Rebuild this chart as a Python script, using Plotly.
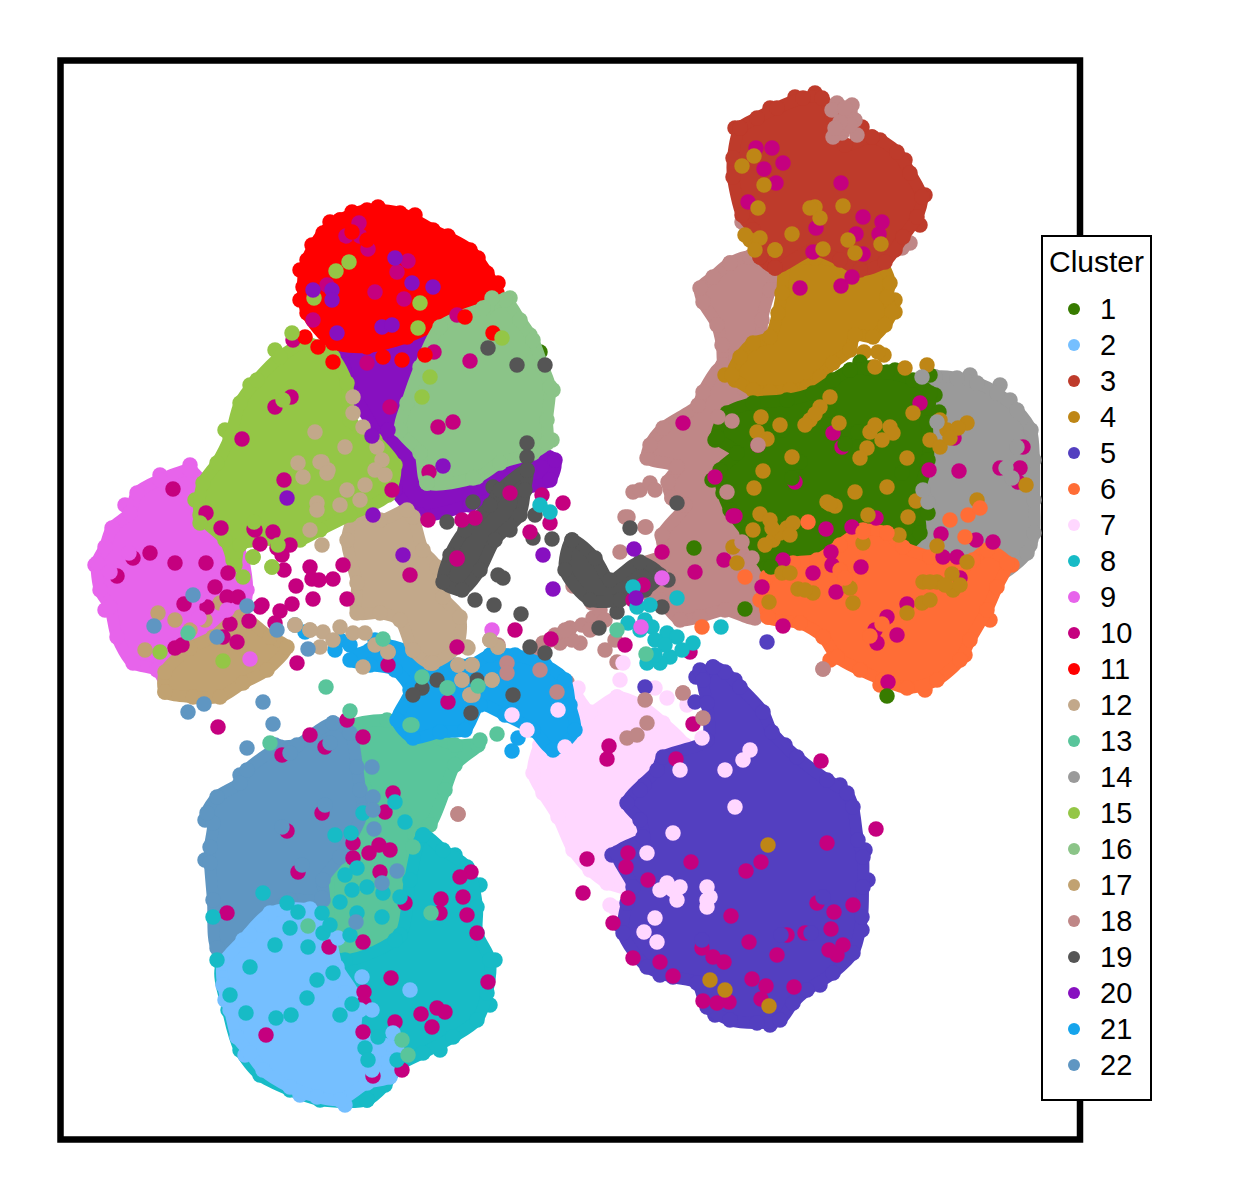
import plotly.graph_objects as go

# Values are read off the picture; the chart has no axis ticks, so the
# scale is arbitrary (y grows downwards). Each cluster: hull = outline of the
# solid mass, pts = separate points, top = points drawn over other clusters.

c1_hull = [[(850,370),(868,368),(887,372),(913,380),(930,393),(927,423),(928,460),(917,500),(920,533),(903,547),(873,547),(853,563),(837,587),(820,580),(787,560),(767,567),(747,533),(730,510),(723,493),(720,470),(737,453),(717,437),(727,413),(753,403),(787,400),(813,393),(833,380)]]
c1_pts = [(540,352),(930,375),(860,362),(895,370),(935,395),(715,440),(712,480)]
c1_top = [(829,410),(845,444),(877,433),(939,412),(771,567),(902,473),(928,513),(694,548),(745,609),(887,696),(858,432),(800,462),(782,430),(792,478)]

c2_hull = [[(223,963),(223,985),(230,1010),(237,1037),(250,1053),(263,1070),(290,1087),(317,1097),(340,1100),(367,1083),(390,1077),(397,1050),(357,1033),(357,1000),(337,967),(330,940),(307,910),(270,913),(243,940)]]
c2_pts = [(225,1000),(245,1055),(300,1095),(345,1105)]
c2_top = [(310,909),(338,938),(332,965),(345,993),(362,977),(360,1010),(410,990),(393,1033),(250,935),(262,925),(372,1010),(380,1055),(388,1062),(372,1070)]

c3_hull = [[(740,128),(757,118),(777,108),(803,98),(822,98),(832,115),(845,145),(872,137),(897,152),(910,173),(922,197),(917,217),(903,237),(885,262),(860,270),(840,260),(813,250),(775,268),(760,257),(753,230),(742,215),(733,177),(733,158)]]
c3_pts = [(735,128),(770,108),(795,97),(815,93),(880,140),(905,160),(925,195),(920,225),(895,250)]
c3_top = [(862,127),(872,137),(775,268),(760,257)]

c4_hull = [[(787,262),(815,258),(840,262),(865,265),(880,262),(890,283),(887,297),(892,312),(885,325),(873,337),(855,335),(850,350),(833,363),(820,377),(807,387),(790,390),(770,392),(753,390),(732,375),(740,357),(753,343),(770,337),(778,313),(782,293)]]
c4_pts = [(884,355),(878,352),(873,367),(850,345),(864,352),(735,380),(725,375),(895,300),(895,312)]
c4_top = [(750,240),(760,238),(775,250),(755,250),(745,235),(761,417),(757,432),(767,439),(792,457),(763,471),(754,488),(839,423),(830,397),(820,407),(810,420),(890,427),(893,433),(907,458),(913,413),(930,440),(947,430),(940,447),(855,492),(827,502),(835,506),(760,514),(770,520),(753,530),(787,528),(793,523),(773,540),(733,547),(737,563),(782,573),(790,573),(908,517),(916,501),(863,543),(899,535),(868,515),(937,546),(967,562),(952,574),(923,582),(937,582),(953,590),(798,589),(813,593),(850,588),(853,603),(922,603),(907,613),(769,602),(1026,485),(977,500),(905,368),(875,367),(927,365),(870,432),(887,487),(867,448),(967,423),
          (815,414),(805,425),(780,533),(765,545),(930,582),(945,585),(960,585),(958,428),(950,438),(875,425),(882,440),(790,535),(772,528),(805,590),(930,600),(940,420),(860,458),(830,504),(780,425),
          (725,990),(769,1006),(768,845),(710,980),(754,156),(742,166),(764,185),(758,208),(843,206),(815,207),(792,234),(881,244),(823,249),(848,240),(855,253),(775,250),(820,218),(810,208)]

c5_hull = [[(713,667),(725,672),(740,687),(763,712),(772,732),(797,757),(827,780),(847,793),(853,807),(858,840),(863,857),(863,887),(862,917),(853,953),(833,973),(807,990),(793,1003),(780,1020),(757,1023),(730,1020),(707,1007),(697,983),(673,977),(647,967),(623,933),(627,903),(633,887),(617,853),(643,837),(640,820),(627,803),(657,770),(663,757),(707,740),(707,703),(703,680)]]
c5_pts = [(696,677),(695,702),(767,642),(645,687),(700,670),(735,680),(785,745),(840,785),(865,850),(868,880),(862,930),(820,985),(770,1025),(715,1015),(660,975),(620,925),(612,855)]
c5_top = [(644,785),(640,790),(781,935),(811,933),(823,897),(702,940)]

c6_hull = [[(768,617),(767,577),(793,563),(817,560),(840,545),(863,530),(887,533),(903,547),(930,557),(963,567),(973,560),(987,550),(1007,563),(997,587),(987,610),(970,640),(960,660),(937,680),(907,688),(883,680),(860,670),(837,657),(823,637),(800,623)]]
c6_pts = [(1012,565),(990,620),(965,655),(925,690),(880,685),(830,660),(760,600)]
c6_top = [(950,520),(968,515),(980,508),(965,537),(863,532),(887,533),(808,522),(745,577),(702,627),(840,570),(845,578),(882,624),(870,636)]

c7_hull = [[(540,745),(578,700),(590,712),(617,697),(640,705),(663,723),(685,745),(700,800),(680,880),(640,905),(627,890),(607,883),(590,870),(573,850),(558,817),(543,793),(533,773)]]
c7_pts = [(578,688),(623,663),(620,680),(617,697),(655,688),(667,698),(687,705),(615,908),(610,905),(527,730),(512,715),(558,710),(565,747)]
c7_top = [(735,807),(667,887),(707,887),(743,760),(725,770),(750,750),(655,918),(644,932),(657,942),(710,897),(673,833),(647,853),(680,770),(702,738),(558,710),(565,747),(527,730),(512,715),(673,890),(680,887),(667,883),(677,900),(707,900),(707,907),(660,890)]

c8_hull = [[(423,835),(443,850),(467,867),(477,907),(477,933),(490,960),(487,993),(477,1020),(453,1037),(423,1053),(400,1065),(385,1085),(367,1100),(320,1100),(290,1090),(260,1075),(240,1050),(228,1010),(222,965),(300,940),(345,960),(400,935),(410,880)]]
c8_pts = [(480,885),(495,960),(490,1005),(440,1050),(455,855)]
c8_top = [(335,835),(351,833),(363,813),(395,802),(405,822),(357,868),(345,875),(352,890),(367,887),(383,893),(340,902),(287,903),(298,912),(322,913),(357,913),(382,917),(290,928),(275,945),(308,947),(323,933),(307,998),(246,1013),(276,1018),(291,1015),(340,1015),(352,1004),(367,1100),(365,1048),(368,1060),(397,1060),(378,1037),(317,980),(333,973),(250,967),(230,995),(217,960),(213,917),(263,893),(330,925),(395,940),(350,935),(400,897),
          (633,587),(637,607),(628,623),(677,598),(693,643),(670,657),(647,663),(660,663),(667,633),(677,637),(652,627),(721,627),(540,505),(550,512),(645,620),(640,630),(655,640),(665,645),(682,650),(650,605),(655,655)]

c9_hull = [[(190,470),(160,480),(137,493),(130,513),(112,528),(105,547),(97,563),(100,590),(110,607),(117,637),(133,663),(157,670),(167,683),(195,640),(240,620),(247,590),(243,560),(227,527),(207,500),(200,480)]]
c9_pts = [(95,565),(105,610),(125,505),(160,475),(190,465)]
c9_top = [(250,659),(199,618),(199,596),(227,610),(492,630),(641,627),(662,578),(110,572),(129,553)]

c10_pts = [(772,148),(756,148),(783,163),(764,169),(776,183),(748,202),(816,228),(856,234),(879,234),(863,254),(841,286),(813,252),(863,217),(841,183),(800,288),(852,277),(882,222),
           (920,403),(954,438),(1023,447),(929,470),(959,471),(1000,468),(1020,468),(1018,482),(833,433),(842,447),(795,482),(735,516),(715,477),(683,423),(826,529),(852,527),(876,518),(941,534),(976,540),(993,542),(831,552),(832,565),(813,573),(861,567),(724,560),(695,572),(783,560),(762,587),(836,592),(907,604),(877,643),(875,630),(887,617),(783,626),(957,557),(943,557),(662,552),(690,652),(625,645),(643,585),(633,600),(758,445),(888,682),(897,635),(960,578),
           (359,223),(346,236),(360,236),(368,249),(408,261),(397,272),(327,285),(375,292),(404,299),(457,315),(293,340),(434,352),(470,361),(367,363),(390,407),(291,397),(275,407),(242,439),(438,427),(453,422),(429,472),(284,480),(542,495),(563,503),(550,523),(530,532),(462,520),(475,518),(428,520),(273,532),(221,528),(255,530),(392,490),(510,493),(313,320),
           (173,489),(206,513),(254,529),(260,544),(277,548),(282,555),(290,545),(284,570),(310,567),(312,579),(319,580),(296,586),(333,579),(347,599),(313,599),(292,604),(280,611),(275,623),(260,607),(249,621),(230,624),(237,642),(223,637),(175,648),(182,645),(184,604),(207,607),(215,587),(228,573),(206,563),(150,553),(133,558),(117,576),(297,663),(218,727),(310,735),(363,737),(347,720),(388,665),(448,702),(343,565),(457,647),(457,558),(410,575),(175,563),(238,597),(227,597),(262,605),
           (515,630),(457,559),(551,639),(609,746),(607,759),(693,724),(676,759),(733,516),
           (325,747),(282,755),(287,831),(298,872),(322,813),(393,793),(385,812),(353,843),(369,853),(379,845),(390,850),(353,858),(380,872),(471,872),(460,877),(463,897),(441,899),(440,913),(467,915),(477,933),(405,903),(227,913),(363,942),(329,947),(391,978),(364,992),(364,1003),(445,1012),(437,1008),(432,1027),(421,1014),(395,1022),(266,1035),(363,1032),(373,1076),(402,1070),(488,982),
           (821,761),(876,829),(587,859),(583,893),(628,853),(626,867),(648,880),(691,862),(746,871),(761,862),(817,903),(834,912),(831,929),(843,945),(837,955),(829,950),(731,916),(749,942),(702,948),(713,957),(724,962),(766,986),(794,987),(752,979),(761,999),(729,1002),(717,1003),(703,1001),(673,976),(633,958),(660,962),(613,923),(628,898),(787,935),(777,955),(827,843),(853,905),(805,933)]

c11_hull = [[(340,220),(367,210),(400,213),(433,230),(470,250),(487,273),(497,293),(490,307),(440,323),(407,337),(367,347),(333,343),(307,313),(303,287),(307,260),(323,233)]]
c11_pts = [(300,270),(312,245),(330,222),(352,212),(378,207),(415,215),(448,236),(478,258),(498,283),(300,300)]
c11_top = [(305,337),(318,347),(333,362),(383,357),(402,360),(465,317),(493,333),(425,355),(352,232),(367,240),(340,250)]

c12_hull = [[(360,507),(347,540),(357,583),(357,613),(380,613),(400,620),(413,650),(430,663),(457,647),(460,617),(443,597),(437,567),(423,550),(413,517),(407,510),(380,520)]]
c12_pts = [(310,630),(323,632),(340,627),(353,633),(365,633),(295,625),(320,647),(363,667),(388,652),(413,650),(432,663),(458,665),(462,680),(473,695),(467,647),(472,665),(492,680),(470,695),(468,648),(498,647),(490,640),(333,640),(375,645)]
c12_top = [(315,432),(353,397),(353,413),(345,447),(298,463),(322,462),(328,470),(303,477),(317,503),(317,510),(360,500),(347,490),(363,427),(377,447),(382,460),(320,462),(327,473),(310,530),(322,545),(458,665),(462,680),(492,680),(470,695),(498,647),(490,640),(433,663),(472,665),(295,625),(310,630),(388,652),(375,470),(340,505),(365,485),(385,475)]

c13_hull = [[(345,730),(387,720),(423,733),(455,745),(478,745),(455,765),(445,790),(430,825),(415,835),(412,870),(400,960),(340,960),(330,870),(365,790)]]
c13_pts = []
c13_top = [(326,687),(350,711),(270,743),(188,633),(383,639),(422,677),(448,688),(412,725),(497,734),(478,686),(447,688),(480,740),(617,630),(646,654),(410,725),(308,926),(431,913),(413,847),(402,1040),(408,1055)]

c14_hull = [[(935,377),(957,378),(977,383),(997,393),(1017,410),(1031,430),(1034,460),(1034,500),(1034,533),(1027,553),(1000,575),(960,575),(920,545),(905,470),(915,400)]]
c14_pts = [(1010,400),(1000,385),(970,375),(1030,545)]
c14_top = [(937,422),(922,377),(928,502),(923,490),(1017,447),(1006,468),(1012,478)]

c15_hull = [[(307,343),(333,357),(347,383),(350,420),(375,440),(395,465),(388,495),(350,515),(320,530),(300,540),(262,540),(240,545),(235,565),(225,540),(200,515),(203,483),(217,463),(230,437),(240,403),(257,380),(280,357)]]
c15_pts = [(272,567),(253,557),(243,577),(233,560),(195,500),(225,430),(250,385),(275,350)]
c15_top = [(223,661),(160,652),(272,567),(253,557),(336,271),(349,262),(314,298),(420,303),(502,338),(418,328),(430,377),(422,397),(292,333),(200,523),(254,522),(283,400),(278,545)]

c16_hull = [[(505,300),(520,320),(533,340),(543,367),(550,387),(547,420),(547,443),(533,453),(500,463),(477,477),(427,483),(420,453),(400,430),(407,403),(420,367),(440,327),(487,307)]]
c16_pts = [(510,298),(530,335),(553,390),(552,440)]
c16_top = [(492,298),(483,308),(427,483),(473,478)]

c17_hull = [[(165,692),(165,672),(190,648),(213,637),(240,617),(270,637),(287,647),(267,670),(243,683),(220,697),(193,697)]]
c17_pts = [(158,613),(220,603),(233,622),(205,620),(190,630),(175,620),(145,650)]
c17_top = []

c18_hull = [[(730,263),(750,257),(775,275),(770,290),(762,320),(762,345),(755,365),(725,367),(722,345),(717,325),(703,302),(700,288),(713,277)],
            [(723,365),(745,390),(760,430),(760,560),(755,618),(725,610),(700,617),(680,620),(660,600),(640,590),(640,565),(663,555),(662,535),(685,505),(672,498),(668,482),(677,467),(647,458),(650,445),(663,428),(698,405),(703,392)]]
c18_pts = [(910,243),(902,248),(742,222),(820,192),(793,223),(767,253),(803,123),
           (633,492),(640,490),(650,483),(625,517),(645,527),(655,490),(672,498),(680,478),(690,510),(700,520),(628,517),(646,527),(620,552),(677,532),(663,538),
           (570,628),(582,625),(593,618),(580,643),(560,643),(543,643),(527,660),(507,663),(507,673),(540,670),(557,692),(605,650),(617,662),(645,700),(647,723),(627,738),(637,735),(683,693),(703,718),(675,750),(567,682),(498,645),(490,640),(573,586),(592,603),(600,610),(823,669),(458,814),(533,650),(555,635),(572,640),(590,630),(565,630),(550,640),(605,620),(615,640)]
c18_top = [(837,103),(850,112),(855,120),(842,133),(857,135),(833,137),(845,128),(832,110),(845,118),(850,125),(840,122),(835,128),(852,105),(845,108),(718,417),(732,421),(758,445),(742,542),(752,558),(727,492),(647,723),(627,738),(637,735),(645,700),(683,693),(703,718),(458,814),(823,669),(507,663),(507,673),(540,670),(557,692)]

c19_hull = [[(527,470),(525,490),(520,515),(495,540),(480,570),(462,590),(443,582),(450,555),(465,530),(490,505),(500,490)],
            [(572,540),(595,558),(610,580),(640,562),(660,575),(645,590),(620,600),(590,600),(565,570)]]
c19_pts = [(527,443),(527,457),(520,477),(493,487),(473,502),(447,522),(510,530),(533,538),(552,539),(535,515),(475,600),(494,605),(521,614),(498,575),(503,578),(630,528),(677,503),(662,607),(617,612),(599,628),(668,580),(530,647),(545,653),(437,680),(422,688),(413,695),(471,713),(513,695),(477,680),(488,348),(517,365),(545,365)]
c19_top = []

c20_hull = [[(345,350),(400,340),(440,330),(470,400),(500,440),(555,460),(550,480),(520,490),(470,505),(420,515),(395,490),(380,440),(350,385)]]
c20_pts = [(318,325),(328,335),(345,350),(360,355)]
c20_top = [(395,258),(412,283),(433,287),(332,290),(332,300),(313,290),(382,327),(392,325),(337,333),(372,436),(388,430),(443,466),(287,498),(373,515),(403,555),(543,555),(553,589),(634,549),(636,598)]

c21_hull = [[(385,645),(420,655),(470,665),(490,655),(515,655),(545,665),(565,680),(570,705),(575,730),(553,750),(533,730),(505,715),(480,705),(465,730),(440,732),(413,738),(397,720),(410,690),(395,670),(370,665),(350,660)]]
c21_pts = [(295,625),(305,632),(335,650),(340,640),(350,645),(360,655),(370,650),(375,640),(385,655),(390,665),(512,751),(518,738),(380,645)]
c21_top = []

c22_hull = [[(333,723),(350,733),(357,767),(360,790),(363,810),(340,857),(323,880),(323,900),(290,900),(260,920),(235,950),(217,948),(213,900),(210,863),(210,847),(213,823),(207,813),(217,797),(240,783),(247,770),(280,747),(297,745)]]
c22_pts = [(205,820),(205,860),(215,920),(240,775),(275,745)]
c22_top = [(263,702),(204,704),(188,712),(273,724),(247,748),(154,626),(217,637),(247,606),(308,649),(277,630),(193,595),(373,797),(373,810),(374,829),(397,871),(382,883),(322,898),(356,922),(372,767),(330,743),(325,805),(290,753),(282,827),(302,865)]

cluster_names = [str(i) for i in range(1, 23)]
cluster_colors = ["#377b00", "#75bfff", "#be3b2b", "#be8616", "#533fc0", "#ff6d36", "#ffd7ff", "#17bbc6", "#e764eb", "#c5007f", "#ff0000",
                  "#c2a88a", "#59c59b", "#9a9a9a", "#94c646", "#8bc488", "#c1a271", "#bf8787", "#555555", "#8710c0", "#15a4ec", "#5f96c2"]
cluster_hulls = [c1_hull, c2_hull, c3_hull, c4_hull, c5_hull, c6_hull, c7_hull, c8_hull, c9_hull, [], c11_hull,
                 c12_hull, c13_hull, c14_hull, c15_hull, c16_hull, c17_hull, c18_hull, c19_hull, c20_hull, c21_hull, c22_hull]
cluster_pts = [c1_pts, c2_pts, c3_pts, c4_pts, c5_pts, c6_pts, c7_pts, c8_pts, c9_pts, [], c11_pts,
               c12_pts, c13_pts, c14_pts, c15_pts, c16_pts, c17_pts, c18_pts, c19_pts, c20_pts, c21_pts, c22_pts]
cluster_top = [c1_top, c2_top, c3_top, c4_top, c5_top, c6_top, c7_top, c8_top, c9_top, c10_pts, c11_top,
               c12_top, c13_top, c14_top, c15_top, c16_top, c17_top, c18_top, c19_top, c20_top, c21_top, c22_top]
cluster_z = [16, 16, 18, 14, 14, 20, 10, 14, 10, 60, 15, 13, 10, 12, 14, 17, 12, 9, 18, 10, 11, 12]

MARKER = 15.5
X0, X1, Y0, Y1 = 61, 1081, 61, 1138


def paper_x(v):
    return (v - X0) / (X1 - X0)


def paper_y(v):
    return (Y1 - v) / (Y1 - Y0)


fig = go.Figure()

for name, color, hulls, pts, top, z in zip(cluster_names, cluster_colors, cluster_hulls, cluster_pts, cluster_top, cluster_z):
    if pts:
        fig.add_trace(go.Scatter(x=[p[0] for p in pts], y=[p[1] for p in pts], mode="markers", name=name,
                                 marker=dict(size=MARKER, color=color), zorder=z))
    for hull in hulls:
        closed = hull + hull[:1]
        fig.add_trace(go.Scatter(x=[p[0] for p in closed], y=[p[1] for p in closed], mode="lines+markers", fill="toself",
                                 fillcolor=color, line=dict(color=color, width=12, shape="spline", smoothing=0.8),
                                 marker=dict(size=MARKER, color=color), name=name, hoverinfo="skip", zorder=z))
    if top:
        fig.add_trace(go.Scatter(x=[p[0] for p in top], y=[p[1] for p in top], mode="markers", name=name,
                                 marker=dict(size=MARKER, color=color), zorder=z if name == "10" else 100))

# legend drawn by hand: the native one cannot get the 36px row pitch at this font size
key_y = [309 + 36 * i for i in range(len(cluster_names))]
fig.add_trace(go.Scatter(x=[1074] * len(key_y), y=key_y, mode="markers", marker=dict(size=12, color=cluster_colors),
                         hoverinfo="skip", zorder=200))

annotations = [dict(x=paper_x(1047), y=paper_y(262), xref="paper", yref="paper", xanchor="left", yanchor="middle",
                    text="Cluster", showarrow=False, font=dict(size=30))]
for name, y in zip(cluster_names, key_y):
    annotations.append(dict(x=paper_x(1098), y=paper_y(y), xref="paper", yref="paper", xanchor="left", yanchor="middle",
                            text=name, showarrow=False, font=dict(size=29)))

shapes = [
    dict(type="rect", xref="paper", yref="paper", x0=paper_x(60.5), x1=paper_x(1080), y0=paper_y(60.5), y1=paper_y(1139.5),
         line=dict(color="black", width=6.5), layer="below"),
    dict(type="rect", xref="paper", yref="paper", x0=paper_x(1042), x1=paper_x(1151), y0=paper_y(236), y1=paper_y(1100),
         line=dict(color="black", width=2), fillcolor="white", layer="below"),
]

axis = dict(showline=False, showgrid=False, zeroline=False, showticklabels=False, ticks="")
fig.update_layout(
    width=1244, height=1184,
    margin=dict(l=53, r=171, t=53, b=54, autoexpand=False),
    paper_bgcolor="white", plot_bgcolor="white", showlegend=False,
    font=dict(family="Liberation Sans, Arial, sans-serif", size=29, color="black"),
    xaxis=dict(range=[X0, X1], **axis),
    yaxis=dict(range=[Y1, Y0], **axis),
    annotations=annotations, shapes=shapes,
)

fig.write_html("out.html")
